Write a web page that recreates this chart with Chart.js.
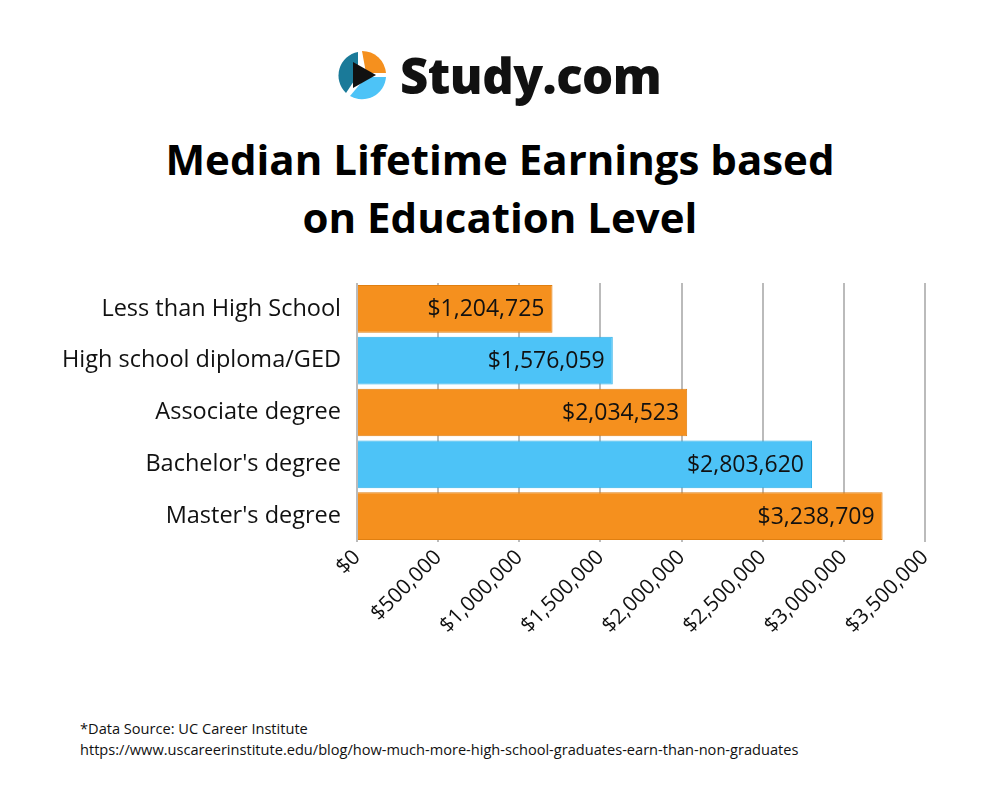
<!DOCTYPE html>
<html><head><meta charset="utf-8">
<script src="https://cdn.jsdelivr.net/npm/chart.js@4"></script>
<style>
body{margin:0;width:1000px;height:800px;background:#fff;font-family:"Open Sans",sans-serif;position:relative;overflow:hidden}
#logo{position:absolute;left:336px;top:42px;display:flex;align-items:center}
#logo span{font-weight:800;font-size:49px;color:#111;margin-left:12px;letter-spacing:-0.5px}
h1{position:absolute;top:130px;left:0;width:1000px;text-align:center;margin:0;font-size:42px;line-height:58px;font-weight:700;color:#000}
#wrap{position:absolute;left:0;top:253px;width:1000px;height:432px}
#src{position:absolute;left:80px;top:718px;font-size:14.6px;line-height:21px;color:#111}
</style></head><body>
<div id="logo">
<svg width="52" height="52" viewBox="0 0 52 52">
<path d="M26 2 A24 24 0 0 1 50 24 L30 24 Z" fill="#f5901e"/>
<path d="M50 28 A24 24 0 0 1 14 47 L30 28 Z" fill="#4dc3f7"/>
<path d="M10 44 A24 24 0 0 1 22 3 L22 26 Z" fill="#1a7a99"/>
<path d="M17 13 L40 26 L17 39 Z" fill="#111"/>
</svg><span>Study.com</span></div>
<h1>Median Lifetime Earnings based<br>on Education Level</h1>
<div id="wrap"><canvas id="c"></canvas></div>
<div id="src">*Data Source: UC Career Institute<br>https://www.uscareerinstitute.edu/blog/how-much-more-high-school-graduates-earn-than-non-graduates</div>
<script>
const categories=["Less than High School","High school diploma/GED","Associate degree","Bachelor's degree","Master's degree"];
const earnings=[1204725,1576059,2034523,2803620,3238709];
const barColors=["#f5901e","#4dc3f7","#f5901e","#4dc3f7","#f5901e"];
const borderColors=["#e07f10","#2fb0e8","#e07f10","#2fb0e8","#e07f10"];
const fmt=v=>"$"+v.toLocaleString("en-US");
const valueLabels={id:"vl",afterDatasetsDraw(ch){const ctx=ch.ctx;const m=ch.getDatasetMeta(0);ctx.save();ctx.font="23px 'Open Sans'";ctx.fillStyle="#111";ctx.textAlign="right";ctx.textBaseline="middle";m.data.forEach((b,i)=>{ctx.fillText(fmt(earnings[i]),b.x-8,b.y+1);});ctx.restore();}};
new Chart(document.getElementById("c"),{type:"bar",
data:{labels:categories,datasets:[{data:earnings,backgroundColor:barColors,borderColor:borderColors,borderWidth:1,barPercentage:0.92,categoryPercentage:1}]},
options:{indexAxis:"y",responsive:true,maintainAspectRatio:false,animation:false,
layout:{padding:{top:30,right:75,bottom:0,left:0}},
plugins:{legend:{display:false},tooltip:{enabled:false}},
scales:{
x:{min:0,max:3500000,ticks:{stepSize:500000,minRotation:45,maxRotation:45,color:"#111",font:{size:21,family:"Open Sans"},callback:v=>fmt(v)},grid:{color:"#bbb",lineWidth:2,drawTicks:false},border:{display:false},afterFit(s){s.height=143;}},
y:{ticks:{color:"#111",font:{size:23.5,family:"Open Sans"},padding:8},grid:{display:false},border:{display:false},afterFit(s){s.width=357;}}
}},plugins:[valueLabels]});
</script></body></html>
